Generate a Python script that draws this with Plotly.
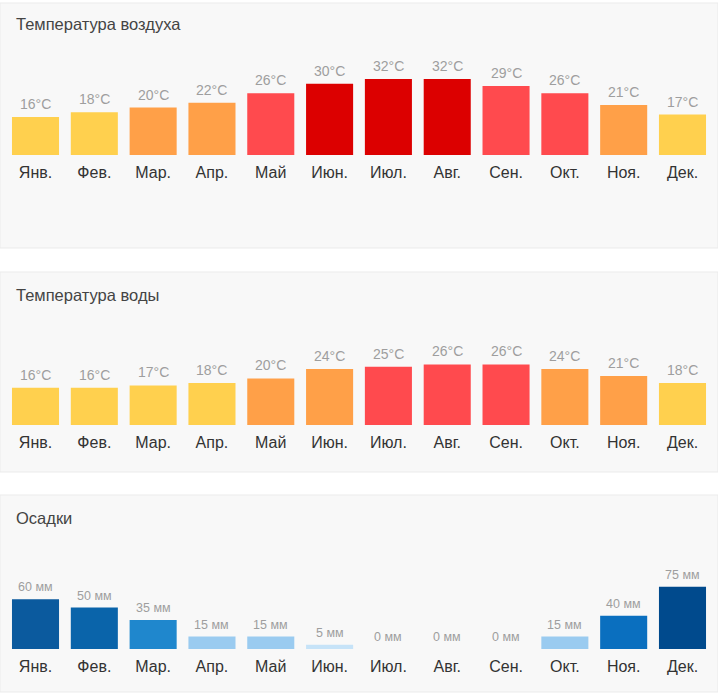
import plotly.graph_objects as go

W, H = 718, 696

months = ["Янв.", "Фев.", "Мар.", "Апр.", "Май", "Июн.", "Июл.", "Авг.", "Сен.", "Окт.", "Ноя.", "Дек."]
air_temp = [16, 18, 20, 22, 26, 30, 32, 32, 29, 26, 21, 17]
water_temp = [16, 16, 17, 18, 20, 24, 25, 26, 26, 24, 21, 18]
precip = [60, 50, 35, 15, 15, 5, 0, 0, 0, 15, 40, 75]

titles = ["Температура воздуха", "Температура воды", "Осадки"]

FONT = "Liberation Sans, Arial, sans-serif"


def temp_color(v):
    if v >= 30:
        return "#DC0000"
    if v >= 25:
        return "#FF4A4E"
    if v >= 20:
        return "#FFA048"
    return "#FFD04E"


def precip_color(v):
    if v >= 70:
        return "#004A8D"
    if v >= 55:
        return "#0B5A9E"
    if v >= 45:
        return "#0A64AA"
    if v >= 38:
        return "#0A6FBF"
    if v >= 25:
        return "#1F87CD"
    if v >= 10:
        return "#9ACBF0"
    return "#C6E3F8"


def py(p):
    return 1 - p / H


panels = [
    dict(bg=(3, 248), base=155, top=60, rng=40, title_y=24),
    dict(bg=(272, 472), base=425, top=331.8, rng=40, title_y=295),
    dict(bg=(495, 692), base=649, top=566, rng=100, title_y=518),
]

series = [air_temp, water_temp, precip]
units = ["°C", "°C", " мм"]
colorfns = [temp_color, temp_color, precip_color]
label_sizes = [14, 14, 12.5]

fig = go.Figure()
shapes = []
annotations = []
layout_axes = {}

for i, (p, vals) in enumerate(zip(panels, series)):
    n = "" if i == 0 else str(i + 1)
    xa = "x" + n
    ya = "y" + n
    fig.add_trace(go.Bar(
        x=months, y=vals, xaxis=xa, yaxis=ya,
        marker=dict(color=[colorfns[i](v) for v in vals], line=dict(width=0)),
        width=0.8, hoverinfo="skip", showlegend=False,
    ))
    layout_axes["xaxis" + n] = dict(
        domain=[6.1 / W, 711.9 / W], anchor=ya, type="category",
        range=[-0.5, 11.5], showgrid=False, zeroline=False, showline=False,
        ticks="outside", ticklen=3, tickcolor="rgba(0,0,0,0)",
        tickfont=dict(size=16, color="#333333", family=FONT),
        fixedrange=True,
    )
    layout_axes["yaxis" + n] = dict(
        domain=[py(p["base"]), py(p["top"])], anchor=xa,
        range=[0, p["rng"]], visible=False, showgrid=False, zeroline=False,
        fixedrange=True,
    )
    shapes.append(dict(
        type="rect", xref="paper", yref="paper", x0=0, x1=1,
        y0=py(p["bg"][1]), y1=py(p["bg"][0]),
        fillcolor="#F8F8F8", line=dict(color="#EBEBEB", width=1), layer="below",
    ))
    annotations.append(dict(
        xref="paper", yref="paper", x=14 / W, y=py(p["title_y"]),
        xanchor="left", yanchor="middle", showarrow=False, text=titles[i],
        font=dict(size=16.5, color="#444444", family=FONT),
    ))
    for m, v in zip(months, vals):
        annotations.append(dict(
            xref=xa, yref=ya, x=m, y=v, xanchor="center", yanchor="bottom",
            yshift=3, showarrow=False, text=f"{v}{units[i]}",
            font=dict(size=label_sizes[i], color="#9E9E9E", family=FONT),
        ))

fig.update_layout(
    width=W, height=H, margin=dict(l=0, r=0, t=0, b=0),
    paper_bgcolor="white", plot_bgcolor="rgba(0,0,0,0)",
    shapes=shapes, annotations=annotations, bargap=0.2,
    **layout_axes,
)

fig.write_html(
    "out.html",
    config={"displayModeBar": False},
    post_script="document.body.style.margin='0';document.body.style.overflow='hidden';",
)
